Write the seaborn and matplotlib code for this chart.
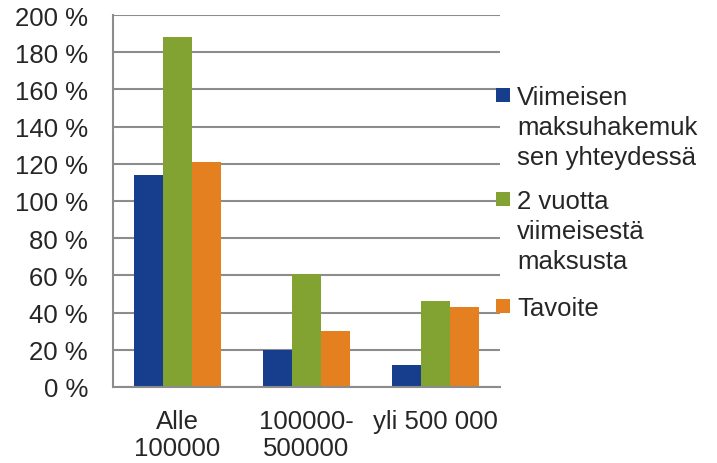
import matplotlib
matplotlib.use('Agg')
import matplotlib.pyplot as plt
import matplotlib.patches as mpatches
import numpy as np
import pandas as pd
import seaborn as sns

categories = ['Alle\n100000', '100000-\n500000', 'yli 500 000']
series_names = ['Viimeisen\nmaksuhakemuk\nsen yhteydessä',
                '2 vuotta\nviimeisestä\nmaksusta',
                'Tavoite']
viimeisen = [114, 20, 12]
kaksi_vuotta = [188, 61, 46]
tavoite = [121, 30, 43]
colors = ['#163E8C', '#82A232', '#E4801F']
y_ticks = list(range(0, 201, 20))

sns.set_style('white')
plt.rcParams['font.family'] = ['Liberation Sans', 'DejaVu Sans']
fs = 18.5

df = pd.DataFrame({
    'cat': categories * 3,
    'series': [s for s in series_names for _ in categories],
    'value': viimeisen + kaksi_vuotta + tavoite,
})

fig = plt.figure(figsize = (7.17, 4.64), dpi = 100)
ax = fig.add_axes([113 / 717, 1 - 388 / 464, 387 / 717, 372 / 464])

grid_col = '#8C8C8C'
sns.barplot(data = df, x = 'cat', y = 'value', hue = 'series', palette = colors,
            width = 0.675, saturation = 1, linewidth = 0, legend = False, ax = ax, zorder = 3)

ax.set_ylim(0, 200)
ax.set_xlim(-0.5, 2.5)
ax.set_yticks(y_ticks)
ax.set_yticklabels(['{v} %'.format(v = v) for v in y_ticks], fontsize = fs)
ax.yaxis.grid(True, color = grid_col, linewidth = 1.5, zorder = 0)
ax.set_axisbelow(True)
ax.set_xlabel('')
ax.set_ylabel('')

# category boundaries as ticks, labels centered without ticks
ax.set_xticks(np.arange(len(categories)))
ax.set_xticklabels(categories, fontsize = fs, linespacing = 1.12)
ax.set_xticks(np.arange(len(categories) + 1) - 0.5, minor = True)
ax.tick_params(axis = 'x', which = 'major', length = 0, pad = 16)
ax.tick_params(axis = 'x', which = 'minor', length = 6, width = 1.5, color = grid_col, direction = 'out')
ax.tick_params(axis = 'y', length = 6, width = 1.5, color = grid_col, direction = 'out', pad = 12)

for side in ['top', 'right']:
    ax.spines[side].set_visible(False)
for side in ['left', 'bottom']:
    ax.spines[side].set_color(grid_col)
    ax.spines[side].set_linewidth(1.5)
    ax.spines[side].set_zorder(4)

# legend drawn by hand so the marker sits at the first text line
square_tops = [89, 193, 300]
for name, col, top in zip(series_names, colors, square_tops):
    fig.patches.append(mpatches.Rectangle((496 / 717, 1 - (top + 14) / 464), 14 / 717, 14 / 464,
                                          transform = fig.transFigure, facecolor = col, edgecolor = 'none'))
    for i, line in enumerate(name.split('\n')):
        base = top + 16 + 30 * i
        fig.text(517 / 717, 1 - base / 464, line, fontsize = fs, va = 'baseline', ha = 'left')

plt.savefig('out.png', dpi = 100)
